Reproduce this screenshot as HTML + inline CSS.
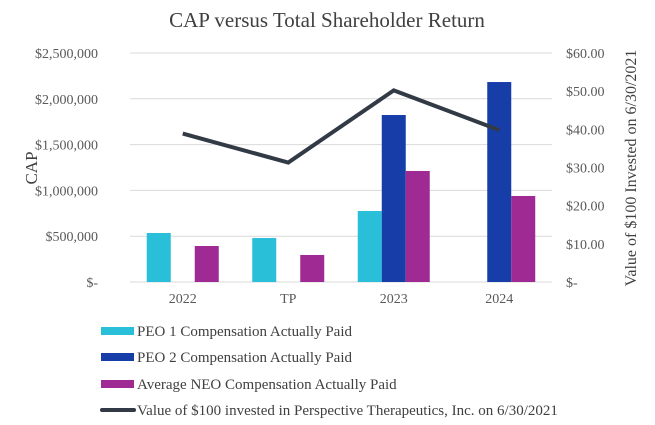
<!DOCTYPE html>
<html><head><meta charset="utf-8"><style>
body{margin:0;background:#fff;}
svg{display:block;font-family:"Liberation Serif",serif;}
</style></head><body>
<svg id="c" width="655" height="425">
<text x="327" y="27" text-anchor="middle" font-size="21" fill="#404040">CAP versus Total Shareholder Return</text>
<g id="grid"></g><g id="bars"></g><g id="line"></g><g id="labels"></g>
<text transform="translate(37,168) rotate(-90)" text-anchor="middle" font-size="17" fill="#404040">CAP</text>
<text transform="translate(636,168) rotate(-90)" text-anchor="middle" font-size="16" fill="#404040">Value of $100 Invested on 6/30/2021</text>
<g id="legend"></g>
</svg>
<script>
const categories=["2022","TP","2023","2024"];
const peo1=[535000,480000,775000,null];
const peo2=[null,null,1823000,2183000];
const neo=[393000,295000,1212000,939000];
const tsr=[38.9,31.3,50.2,39.8];
const leftTicks=[0,500000,1000000,1500000,2000000,2500000];
const leftTickLabels=["$-","$500,000","$1,000,000","$1,500,000","$2,000,000","$2,500,000"];
const rightTicks=[0,10,20,30,40,50,60];
const rightTickLabels=["$-","$10.00","$20.00","$30.00","$40.00","$50.00","$60.00"];
const colors=["#29BFD9","#173EA8","#A02A93"];
const seriesNames=["PEO 1 Compensation Actually Paid","PEO 2 Compensation Actually Paid","Average NEO Compensation Actually Paid"];
const lineName="Value of $100 invested in Perspective Therapeutics, Inc. on 6/30/2021";

const NS="http://www.w3.org/2000/svg";
const x0=130,x1=552,yBase=282,yTop=53;
const yL=v=>yBase-(v/2500000)*(yBase-yTop);
const yR=v=>yBase-(v/60)*(yBase-yTop);
const band=(x1-x0)/categories.length;
const xc=i=>x0+band*(i+0.5);
function mk(tag,attrs,parent){const e=document.createElementNS(NS,tag);for(const k in attrs)e.setAttribute(k,attrs[k]);parent.appendChild(e);return e;}
const G=id=>document.getElementById(id);

leftTicks.forEach((t,i)=>{
  const l=mk("line",{x1:x0,x2:x1,y1:yL(t),y2:yL(t),stroke:"#d9d9d9","stroke-width":1},G("grid"));
  
  
  const tx=mk("text",{x:98,y:yL(t)+5,"text-anchor":"end","font-size":14,fill:"#595959"},G("labels"));
  tx.textContent=leftTickLabels[i];
  
  
});
rightTicks.forEach((t,i)=>{
  const tx=mk("text",{x:566,y:yR(t)+5,"font-size":14,fill:"#595959"},G("labels"));
  tx.textContent=rightTickLabels[i];
  
  
});
categories.forEach((c,i)=>{
  const tx=mk("text",{x:xc(i),y:303,"text-anchor":"middle","font-size":14,fill:"#595959"},G("labels"));
  tx.textContent=c;
  
  
});
const bw=24;
[peo1,peo2,neo].forEach((s,si)=>{
  s.forEach((v,i)=>{
    if(v==null)return;
    const r=mk("rect",{x:xc(i)-36+si*bw,y:yL(v),width:bw,height:yBase-yL(v),fill:colors[si]},G("bars"));
    
    
  });
});
const pts=tsr.map((v,i)=>xc(i)+","+yR(v)).join(" ");
const pl=mk("polyline",{points:pts,fill:"none",stroke:"#323A46","stroke-width":4,"stroke-linejoin":"miter"},G("line"));



const rows=[331,357,384,410];
seriesNames.concat([lineName]).forEach((n,i)=>{
  let sw;
  if(i<3) sw=mk("rect",{x:101,y:rows[i]-4,width:33,height:8,fill:colors[i]},G("legend"));
  else sw=mk("line",{x1:102,x2:134,y1:rows[i],y2:rows[i],stroke:"#323A46","stroke-width":4,"stroke-linecap":"round"},G("legend"));
  
  
  const tx=mk("text",{x:137,y:rows[i]+5,"font-size":15,fill:"#404040"},G("legend"));
  tx.textContent=n;
  
  
});
</script>
</body></html>
